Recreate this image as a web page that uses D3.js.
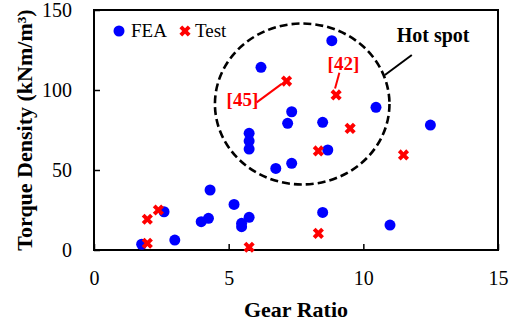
<!DOCTYPE html>
<html>
<head>
<meta charset="utf-8">
<script src="https://cdn.jsdelivr.net/npm/d3@7"></script>
<style>
  body { margin: 0; background: #fff; }
  svg { display: block; }
  svg text { font-family: 'Liberation Serif', 'Times New Roman', serif; }
</style>
</head>
<body>
<div id="chart"></div>
<script>
const FONT = "'Liberation Serif', 'Times New Roman', serif";

// FEA results: [gear ratio, torque density]
const feaPoints = [
  [1.77, 3.6], [2.6, 23.9], [3.0, 6.2], [3.98, 17.7], [4.25, 19.8],
  [4.31, 37.5], [5.2, 28.5], [5.48, 16.7], [5.48, 14.6], [5.76, 20.4],
  [5.76, 72.9], [5.76, 68.1], [5.76, 63.1], [6.2, 114.2], [6.75, 51],
  [7.19, 79.2], [7.34, 86.4], [7.34, 54.2], [8.49, 79.8], [8.49, 23.5],
  [8.68, 62.5], [8.83, 130.8], [10.47, 89.2], [10.99, 15.6], [12.49, 78.1]
];

// Test results
const testPoints = [
  [1.98, 4.2], [1.98, 19.2], [2.39, 25], [5.76, 1.7], [7.15, 105.6],
  [8.33, 10.4], [8.33, 61.9], [8.99, 96.9], [9.51, 76], [11.49, 59.4]
];

const xTicks = [0, 5, 10, 15];
const yTicks = [0, 50, 100, 150];

// reference labels in data units: text anchor + leader line
const refLabels = [
  { text: '[45]', x: 5.51, y: 90, line: [[6.04, 92.3], [6.97, 103.8]] },
  { text: '[42]', x: 9.26, y: 112.5, line: [[9.11, 110.8], [8.95, 101]] }
];

// hot spot region (centre and radii in data units)
const hotSpot = { cx: 7.73, cy: 91.25, rx: 3.24, ry: 50.3, label: 'Hot spot',
  labelX: 11.24, labelY: 130.2, line: [[11.8, 121.9], [10.8, 109.4]] };

const width = 509, height = 326;
const margin = { top: 10, right: 11, bottom: 76, left: 94 };
const innerW = width - margin.left - margin.right;
const innerH = height - margin.top - margin.bottom;

const svg = d3.select('#chart').append('svg')
  .attr('width', width)
  .attr('height', height)
  .attr('font-family', FONT);

const g = svg.append('g')
  .attr('transform', `translate(${margin.left},${margin.top})`);

const x = d3.scaleLinear().domain([0, 15]).range([0, innerW]);
const y = d3.scaleLinear().domain([0, 150]).range([innerH, 0]);

// axes with inside ticks
const xAxis = g.append('g')
  .attr('transform', `translate(0,${innerH})`)
  .call(d3.axisBottom(x).tickValues(xTicks).tickSizeInner(-6).tickSizeOuter(0).tickPadding(21));
const yAxis = g.append('g')
  .call(d3.axisLeft(y).tickValues(yTicks).tickSizeInner(-6).tickSizeOuter(0).tickPadding(22));

[xAxis, yAxis].forEach(a => {
  a.attr('font-family', FONT).attr('font-size', 20);
  a.select('.domain').remove();
  a.selectAll('.tick line').attr('stroke', '#000').attr('stroke-width', 1.5);
  a.selectAll('.tick text').attr('fill', '#000');
});

// frame
g.append('rect')
  .attr('width', innerW)
  .attr('height', innerH)
  .attr('fill', 'none')
  .attr('stroke', '#000')
  .attr('stroke-width', 2);

// hot spot ellipse
g.append('ellipse')
  .attr('cx', x(hotSpot.cx))
  .attr('cy', y(hotSpot.cy))
  .attr('rx', x(hotSpot.rx) - x(0))
  .attr('ry', y(0) - y(hotSpot.ry))
  .attr('fill', 'none')
  .attr('stroke', '#000')
  .attr('stroke-width', 2.6)
  .attr('stroke-dasharray', '8,4');

g.append('line')
  .attr('x1', x(hotSpot.line[0][0])).attr('y1', y(hotSpot.line[0][1]))
  .attr('x2', x(hotSpot.line[1][0])).attr('y2', y(hotSpot.line[1][1]))
  .attr('stroke', '#000')
  .attr('stroke-width', 2);

g.append('text')
  .attr('x', x(hotSpot.labelX))
  .attr('y', y(hotSpot.labelY))
  .attr('font-size', 20)
  .attr('font-weight', 'bold')
  .text(hotSpot.label);

// FEA points
g.selectAll('.fea')
  .data(feaPoints)
  .enter()
  .append('circle')
  .attr('class', 'fea')
  .attr('cx', d => x(d[0]))
  .attr('cy', d => y(d[1]))
  .attr('r', 5.5)
  .attr('fill', '#0000ff');

// Test points
const cross = d3.symbol().type(d3.symbolCross).size(78);
g.selectAll('.test')
  .data(testPoints)
  .enter()
  .append('path')
  .attr('class', 'test')
  .attr('d', cross)
  .attr('transform', d => `translate(${x(d[0])},${y(d[1])}) rotate(45)`)
  .attr('fill', '#ff0000');

// reference labels
refLabels.forEach(r => {
  g.append('line')
    .attr('x1', x(r.line[0][0])).attr('y1', y(r.line[0][1]))
    .attr('x2', x(r.line[1][0])).attr('y2', y(r.line[1][1]))
    .attr('stroke', '#ff0000')
    .attr('stroke-width', 2);
  g.append('text')
    .attr('x', x(r.x))
    .attr('y', y(r.y))
    .attr('text-anchor', 'middle')
    .attr('font-size', 19)
    .attr('font-weight', 'bold')
    .attr('fill', '#ff0000')
    .text(r.text);
});

// legend
const legend = svg.append('g').attr('transform', 'translate(119,31)');
legend.append('circle').attr('r', 5.5).attr('fill', '#0000ff');
legend.append('text').attr('x', 12).attr('y', 6).attr('font-size', 19).text('FEA');
legend.append('path')
  .attr('d', cross)
  .attr('transform', 'translate(66,0) rotate(45)')
  .attr('fill', '#ff0000');
legend.append('text').attr('x', 76).attr('y', 6).attr('font-size', 19).text('Test');

// axis titles
svg.append('text')
  .attr('x', margin.left + innerW / 2)
  .attr('y', 317)
  .attr('text-anchor', 'middle')
  .attr('font-size', 22)
  .attr('font-weight', 'bold')
  .text('Gear Ratio');

svg.append('text')
  .attr('transform', `translate(32,${margin.top + innerH / 2}) rotate(-90)`)
  .attr('text-anchor', 'middle')
  .attr('font-size', 22)
  .attr('font-weight', 'bold')
  .text('Torque Density (kNm/m³)');
</script>
</body>
</html>
